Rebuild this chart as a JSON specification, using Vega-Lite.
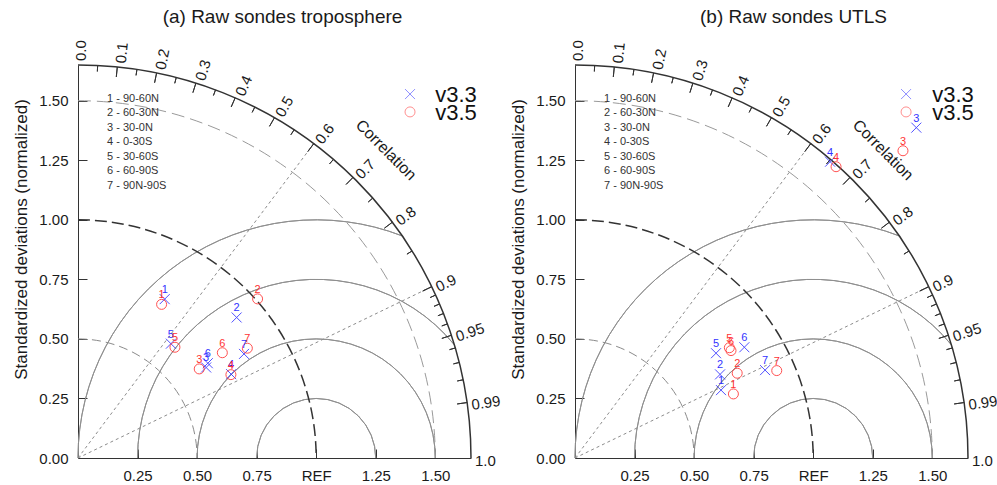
{
  "$schema": "https://vega.github.io/schema/vega-lite/v6.json",
  "padding": {"left": 12, "top": 8, "right": 5, "bottom": 5},
  "background": "white",
  "datasets": {
    "points_tropo": [
      {"version": "v3.3", "region": 1, "x": 0.364, "y": 0.667},
      {"version": "v3.3", "region": 2, "x": 0.666, "y": 0.590},
      {"version": "v3.3", "region": 3, "x": 0.538, "y": 0.380},
      {"version": "v3.3", "region": 4, "x": 0.643, "y": 0.352},
      {"version": "v3.3", "region": 5, "x": 0.390, "y": 0.480},
      {"version": "v3.3", "region": 6, "x": 0.545, "y": 0.398},
      {"version": "v3.3", "region": 7, "x": 0.697, "y": 0.437},
      {"version": "v3.5", "region": 1, "x": 0.351, "y": 0.645},
      {"version": "v3.5", "region": 2, "x": 0.754, "y": 0.668},
      {"version": "v3.5", "region": 3, "x": 0.509, "y": 0.374},
      {"version": "v3.5", "region": 4, "x": 0.642, "y": 0.350},
      {"version": "v3.5", "region": 5, "x": 0.407, "y": 0.465},
      {"version": "v3.5", "region": 6, "x": 0.606, "y": 0.442},
      {"version": "v3.5", "region": 7, "x": 0.711, "y": 0.461}
    ],
    "points_utls": [
      {"version": "v3.3", "region": 1, "x": 0.613, "y": 0.285},
      {"version": "v3.3", "region": 2, "x": 0.609, "y": 0.351},
      {"version": "v3.3", "region": 3, "x": 1.433, "y": 1.387},
      {"version": "v3.3", "region": 4, "x": 1.071, "y": 1.244},
      {"version": "v3.3", "region": 5, "x": 0.592, "y": 0.440},
      {"version": "v3.3", "region": 6, "x": 0.711, "y": 0.465},
      {"version": "v3.3", "region": 7, "x": 0.798, "y": 0.369},
      {"version": "v3.5", "region": 1, "x": 0.665, "y": 0.269},
      {"version": "v3.5", "region": 2, "x": 0.681, "y": 0.356},
      {"version": "v3.5", "region": 3, "x": 1.377, "y": 1.290},
      {"version": "v3.5", "region": 4, "x": 1.096, "y": 1.223},
      {"version": "v3.5", "region": 5, "x": 0.648, "y": 0.463},
      {"version": "v3.5", "region": 6, "x": 0.655, "y": 0.451},
      {"version": "v3.5", "region": 7, "x": 0.847, "y": 0.367}
    ],
    "rms_arcs": [
      {"cx": 1, "cy": 0, "r": 0.25, "t1": -90, "t2": 90},
      {"cx": 1, "cy": 0, "r": 0.5, "t1": -90, "t2": 90},
      {"cx": 1, "cy": 0, "r": 0.75, "t1": -90, "t2": 50.66},
      {"cx": 1, "cy": 0, "r": 1.0, "t1": -90, "t2": 21.17}
    ],
    "std_arcs": [{"r": 0.5}, {"r": 1.0}, {"r": 1.5}, {"r": 1.65}],
    "corr_rays": [
      {"corr": 0.6, "x": 0, "y": 0, "x2": 0.99, "y2": 1.32},
      {"corr": 0.9, "x": 0, "y": 0, "x2": 1.485, "y2": 0.7193}
    ],
    "corr_ticks": [
      {"corr": 0.05, "theta": 2.866, "kind": "minor"},
      {"corr": 0.1, "theta": 5.739, "kind": "major"},
      {"corr": 0.15, "theta": 8.627, "kind": "minor"},
      {"corr": 0.2, "theta": 11.537, "kind": "major"},
      {"corr": 0.25, "theta": 14.478, "kind": "minor"},
      {"corr": 0.3, "theta": 17.458, "kind": "major"},
      {"corr": 0.35, "theta": 20.487, "kind": "minor"},
      {"corr": 0.4, "theta": 23.578, "kind": "major"},
      {"corr": 0.45, "theta": 26.744, "kind": "minor"},
      {"corr": 0.5, "theta": 30.0, "kind": "major"},
      {"corr": 0.55, "theta": 33.367, "kind": "minor"},
      {"corr": 0.6, "theta": 36.87, "kind": "major"},
      {"corr": 0.65, "theta": 40.542, "kind": "minor"},
      {"corr": 0.7, "theta": 44.427, "kind": "major"},
      {"corr": 0.75, "theta": 48.59, "kind": "minor"},
      {"corr": 0.8, "theta": 53.13, "kind": "major"},
      {"corr": 0.85, "theta": 58.212, "kind": "minor"},
      {"corr": 0.9, "theta": 64.158, "kind": "major"},
      {"corr": 0.91, "theta": 65.505, "kind": "minor"},
      {"corr": 0.92, "theta": 66.926, "kind": "minor"},
      {"corr": 0.93, "theta": 68.434, "kind": "minor"},
      {"corr": 0.94, "theta": 70.052, "kind": "minor"},
      {"corr": 0.95, "theta": 71.805, "kind": "major"},
      {"corr": 0.96, "theta": 73.74, "kind": "minor"},
      {"corr": 0.97, "theta": 75.93, "kind": "minor"},
      {"corr": 0.98, "theta": 78.522, "kind": "minor"},
      {"corr": 0.99, "theta": 81.89, "kind": "major"}
    ],
    "corr_labels": [
      {"label": "0.0", "theta": 0},
      {"label": "0.1", "theta": 5.739},
      {"label": "0.2", "theta": 11.537},
      {"label": "0.3", "theta": 17.458},
      {"label": "0.4", "theta": 23.578},
      {"label": "0.5", "theta": 30.0},
      {"label": "0.6", "theta": 36.87},
      {"label": "0.7", "theta": 44.427},
      {"label": "0.8", "theta": 53.13},
      {"label": "0.9", "theta": 64.158},
      {"label": "0.95", "theta": 71.805},
      {"label": "0.99", "theta": 81.89},
      {"label": "1.0", "theta": 90}
    ]
  },
  "spacing": 104,
  "bounds": "flush",
  "hconcat": [
    {
      "width": 393,
      "height": 393,
      "title": {"text": "(a) Raw sondes troposphere", "anchor": "middle", "frame": "group", "dx": 8, "offset": 13},
      "layer": [
        {
          "data": {"name": "corr_rays"},
          "mark": {"type": "rule", "stroke": "#8c8c8c", "strokeWidth": 1, "strokeDash": [3, 3]},
          "encoding": {
            "x": {"field": "x", "type": "quantitative", "scale": {"domain": [0, 1.65], "nice": false, "zero": true},
              "axis": {"values": [0.25, 0.5, 0.75, 1, 1.25, 1.5], "labelExpr": "datum.value == 1 ? 'REF' : format(datum.value, '.2f')", "title": null, "tickSize": -9, "labelPadding": 19, "labelFlush": false, "labelOverlap": false}},
            "y": {"field": "y", "type": "quantitative", "scale": {"domain": [0, 1.65], "nice": false, "zero": true},
              "axis": {"values": [0, 0.25, 0.5, 0.75, 1, 1.25, 1.5], "format": ".2f", "title": "Standardized deviations (normalized)", "titleFontSize": 17, "titleY": 174, "tickSize": -9, "labelPadding": 19, "titlePadding": 8, "labelFlush": false, "labelOverlap": false}},
            "x2": {"field": "x2"},
            "y2": {"field": "y2"}
          }
        },
        {
          "data": {"name": "rms_arcs"},
          "mark": {"type": "arc", "filled": false, "stroke": "#8f8f8f", "strokeWidth": 1},
          "encoding": {
            "x": {"field": "cx", "type": "quantitative", "scale": {"domain": [0, 1.65], "nice": false, "zero": true}},
            "y": {"field": "cy", "type": "quantitative", "scale": {"domain": [0, 1.65], "nice": false, "zero": true}},
            "theta": {"field": "t1", "type": "quantitative", "stack": null, "scale": {"type": "linear", "domain": [0, 360], "range": [0, 6.283185307179586]}},
            "theta2": {"field": "t2"},
            "radius": {"field": "r", "type": "quantitative", "stack": null, "scale": {"type": "linear", "domain": [0, 1.65], "range": [0, 393]}},
            "radius2": {"field": "r"}
          }
        },
        {
          "data": {"name": "std_arcs"},
          "transform": [{"filter": "datum.r == 0.5"}],
          "mark": {"type": "arc", "filled": false, "stroke": "#8a8a8a", "strokeWidth": 1,
            "strokeDash": [9,5,9,5,9,5,9,5,9,5,9,5,9,5,9,5,9,5,9,5,9,5,9,5,9,5,5,5000]},
          "encoding": {
            "x": {"datum": 0, "type": "quantitative", "scale": {"domain": [0, 1.65], "nice": false, "zero": true}},
            "y": {"datum": 0, "type": "quantitative", "scale": {"domain": [0, 1.65], "nice": false, "zero": true}},
            "theta": {"datum": 0, "type": "quantitative", "stack": null, "scale": {"type": "linear", "domain": [0, 360], "range": [0, 6.283185307179586]}},
            "theta2": {"datum": 90},
            "radius": {"field": "r", "type": "quantitative", "stack": null, "scale": {"type": "linear", "domain": [0, 1.65], "range": [0, 393]}},
            "radius2": {"field": "r"}
          }
        },
        {
          "data": {"name": "std_arcs"},
          "transform": [{"filter": "datum.r == 1.0"}],
          "mark": {"type": "arc", "filled": false, "stroke": "#333333", "strokeWidth": 1.5,
            "strokeDash": [12,5,12,5,12,5,12,5,12,5,12,5,12,5,12,5,12,5,12,5,12,5,12,5,12,5,12,5,12,5,12,5,12,5,12,5,12,5,12,5,12,5,12,5,0,5000]},
          "encoding": {
            "x": {"datum": 0, "type": "quantitative", "scale": {"domain": [0, 1.65], "nice": false, "zero": true}},
            "y": {"datum": 0, "type": "quantitative", "scale": {"domain": [0, 1.65], "nice": false, "zero": true}},
            "theta": {"datum": 0, "type": "quantitative", "stack": null, "scale": {"type": "linear", "domain": [0, 360], "range": [0, 6.283185307179586]}},
            "theta2": {"datum": 90},
            "radius": {"field": "r", "type": "quantitative", "stack": null, "scale": {"type": "linear", "domain": [0, 1.65], "range": [0, 393]}},
            "radius2": {"field": "r"}
          }
        },
        {
          "data": {"name": "std_arcs"},
          "transform": [{"filter": "datum.r == 1.5"}],
          "mark": {"type": "arc", "filled": false, "stroke": "#9a9a9a", "strokeWidth": 1,
            "strokeDash": [13,6,13,6,13,6,13,6,13,6,13,6,13,6,13,6,13,6,13,6,13,6,13,6,13,6,13,6,13,6,13,6,13,6,13,6,13,6,13,6,13,6,13,6,13,6,13,6,13,6,13,6,13,6,13,6,13,6,10,5000]},
          "encoding": {
            "x": {"datum": 0, "type": "quantitative", "scale": {"domain": [0, 1.65], "nice": false, "zero": true}},
            "y": {"datum": 0, "type": "quantitative", "scale": {"domain": [0, 1.65], "nice": false, "zero": true}},
            "theta": {"datum": 0, "type": "quantitative", "stack": null, "scale": {"type": "linear", "domain": [0, 360], "range": [0, 6.283185307179586]}},
            "theta2": {"datum": 90},
            "radius": {"field": "r", "type": "quantitative", "stack": null, "scale": {"type": "linear", "domain": [0, 1.65], "range": [0, 393]}},
            "radius2": {"field": "r"}
          }
        },
        {
          "data": {"name": "std_arcs"},
          "transform": [{"filter": "datum.r == 1.65"}],
          "mark": {"type": "arc", "filled": false, "stroke": "#333333", "strokeWidth": 1.5},
          "encoding": {
            "x": {"datum": 0, "type": "quantitative", "scale": {"domain": [0, 1.65], "nice": false, "zero": true}},
            "y": {"datum": 0, "type": "quantitative", "scale": {"domain": [0, 1.65], "nice": false, "zero": true}},
            "theta": {"datum": 0, "type": "quantitative", "stack": null, "scale": {"type": "linear", "domain": [0, 360], "range": [0, 6.283185307179586]}},
            "theta2": {"datum": 90},
            "radius": {"field": "r", "type": "quantitative", "stack": null, "scale": {"type": "linear", "domain": [0, 1.65], "range": [0, 393]}},
            "radius2": {"field": "r"}
          }
        },
        {
          "data": {"name": "corr_ticks"},
          "transform": [{"filter": "datum.kind == 'major'"}],
          "mark": {"type": "arc", "filled": false, "stroke": "#333333", "strokeWidth": 1, "radius2Offset": -10},
          "encoding": {
            "x": {"datum": 0, "type": "quantitative", "scale": {"domain": [0, 1.65], "nice": false, "zero": true}},
            "y": {"datum": 0, "type": "quantitative", "scale": {"domain": [0, 1.65], "nice": false, "zero": true}},
            "theta": {"field": "theta", "type": "quantitative", "stack": null, "scale": {"type": "linear", "domain": [0, 360], "range": [0, 6.283185307179586]}},
            "theta2": {"field": "theta"},
            "radius": {"datum": 1.65, "type": "quantitative", "stack": null, "scale": {"type": "linear", "domain": [0, 1.65], "range": [0, 393]}},
            "radius2": {"datum": 1.65}
          }
        },
        {
          "data": {"name": "corr_ticks"},
          "transform": [{"filter": "datum.kind == 'minor'"}],
          "mark": {"type": "arc", "filled": false, "stroke": "#333333", "strokeWidth": 1, "radius2Offset": -6},
          "encoding": {
            "x": {"datum": 0, "type": "quantitative", "scale": {"domain": [0, 1.65], "nice": false, "zero": true}},
            "y": {"datum": 0, "type": "quantitative", "scale": {"domain": [0, 1.65], "nice": false, "zero": true}},
            "theta": {"field": "theta", "type": "quantitative", "stack": null, "scale": {"type": "linear", "domain": [0, 360], "range": [0, 6.283185307179586]}},
            "theta2": {"field": "theta"},
            "radius": {"datum": 1.65, "type": "quantitative", "stack": null, "scale": {"type": "linear", "domain": [0, 1.65], "range": [0, 393]}},
            "radius2": {"datum": 1.65}
          }
        },
        {
          "data": {"name": "corr_labels"},
          "mark": {"type": "text", "align": "left", "baseline": "middle", "dx": 4, "dy": 3, "fontSize": 15, "color": "#1a1a1a"},
          "encoding": {
            "x": {"datum": 0, "type": "quantitative", "scale": {"domain": [0, 1.65], "nice": false, "zero": true}},
            "y": {"datum": 0, "type": "quantitative", "scale": {"domain": [0, 1.65], "nice": false, "zero": true}},
            "theta": {"field": "theta", "type": "quantitative", "stack": null, "scale": {"type": "linear", "domain": [0, 360], "range": [0, 6.283185307179586]}},
            "radius": {"datum": 1.65, "type": "quantitative", "stack": null, "scale": {"type": "linear", "domain": [0, 1.65], "range": [0, 393]}},
            "angle": {"field": "theta", "type": "quantitative", "scale": {"domain": [0, 90], "range": [-90, 0]}, "legend": null},
            "text": {"field": "label"}
          }
        },
        {
          "data": {"values": [{}]},
          "mark": {"type": "text", "text": "Correlation", "align": "center", "baseline": "middle", "angle": 45, "fontSize": 16, "color": "#1a1a1a"},
          "encoding": {
            "x": {"datum": 1.293, "type": "quantitative", "scale": {"domain": [0, 1.65], "nice": false, "zero": true}},
            "y": {"datum": 1.293, "type": "quantitative", "scale": {"domain": [0, 1.65], "nice": false, "zero": true}}
          }
        },
        {
          "data": {"values": [{}]},
          "mark": {"type": "text", "text": ["1 - 90-60N", "2 - 60-30N", "3 - 30-0N", "4 - 0-30S", "5 - 30-60S", "6 - 60-90S", "7 - 90N-90S"],
            "align": "left", "baseline": "middle", "lineHeight": 14.5, "fontSize": 11, "color": "#333333"},
          "encoding": {
            "x": {"datum": 0.122, "type": "quantitative", "scale": {"domain": [0, 1.65], "nice": false, "zero": true}},
            "y": {"datum": 1.508, "type": "quantitative", "scale": {"domain": [0, 1.65], "nice": false, "zero": true}}
          }
        },
        {
          "data": {"values": [{}]},
          "mark": {"type": "point", "filled": false, "size": 100, "strokeWidth": 1, "opacity": 0.55},
          "encoding": {
            "x": {"datum": 1.394, "type": "quantitative", "scale": {"domain": [0, 1.65], "nice": false, "zero": true}},
            "y": {"datum": 1.528, "type": "quantitative", "scale": {"domain": [0, 1.65], "nice": false, "zero": true}},
            "color": {"datum": "v3.3", "type": "nominal", "scale": {"domain": ["v3.3", "v3.5"], "range": ["#3333ff", "#ff3333"]}, "legend": null},
            "shape": {"datum": "v3.3", "type": "nominal", "scale": {"domain": ["v3.3", "v3.5"], "range": ["M-1,-1L1,1M-1,1L1,-1", "circle"]}, "legend": null}
          }
        },
        {
          "data": {"values": [{}]},
          "mark": {"type": "point", "filled": false, "size": 100, "strokeWidth": 1, "opacity": 0.55},
          "encoding": {
            "x": {"datum": 1.394, "type": "quantitative", "scale": {"domain": [0, 1.65], "nice": false, "zero": true}},
            "y": {"datum": 1.453, "type": "quantitative", "scale": {"domain": [0, 1.65], "nice": false, "zero": true}},
            "color": {"datum": "v3.5", "type": "nominal", "scale": {"domain": ["v3.3", "v3.5"], "range": ["#3333ff", "#ff3333"]}, "legend": null},
            "shape": {"datum": "v3.5", "type": "nominal", "scale": {"domain": ["v3.3", "v3.5"], "range": ["M-1,-1L1,1M-1,1L1,-1", "circle"]}, "legend": null}
          }
        },
        {
          "data": {"values": [{}]},
          "mark": {"type": "text", "text": ["v3.3", "v3.5"], "align": "left", "baseline": "middle", "lineHeight": 17.5, "fontSize": 22, "color": "#111111"},
          "encoding": {
            "x": {"datum": 1.5, "type": "quantitative", "scale": {"domain": [0, 1.65], "nice": false, "zero": true}},
            "y": {"datum": 1.524, "type": "quantitative", "scale": {"domain": [0, 1.65], "nice": false, "zero": true}}
          }
        },
        {
          "data": {"name": "points_tropo"},
          "mark": {"type": "point", "filled": false, "size": 100, "strokeWidth": 1, "opacity": 0.85},
          "encoding": {
            "x": {"field": "x", "type": "quantitative", "scale": {"domain": [0, 1.65], "nice": false, "zero": true}},
            "y": {"field": "y", "type": "quantitative", "scale": {"domain": [0, 1.65], "nice": false, "zero": true}},
            "color": {"field": "version", "type": "nominal", "scale": {"domain": ["v3.3", "v3.5"], "range": ["#3333ff", "#ff3333"]}, "legend": null},
            "shape": {"field": "version", "type": "nominal", "scale": {"domain": ["v3.3", "v3.5"], "range": ["M-1,-1L1,1M-1,1L1,-1", "circle"]}, "legend": null}
          }
        },
        {
          "data": {"name": "points_tropo"},
          "mark": {"type": "text", "fontSize": 11, "dy": -9, "align": "center", "baseline": "middle"},
          "encoding": {
            "x": {"field": "x", "type": "quantitative", "scale": {"domain": [0, 1.65], "nice": false, "zero": true}},
            "y": {"field": "y", "type": "quantitative", "scale": {"domain": [0, 1.65], "nice": false, "zero": true}},
            "text": {"field": "region"},
            "color": {"field": "version", "type": "nominal", "scale": {"domain": ["v3.3", "v3.5"], "range": ["#3333ff", "#ff3333"]}, "legend": null}
          }
        }
      ]
    },
    {
      "width": 393,
      "height": 393,
      "title": {"text": "(b)  Raw sondes UTLS", "anchor": "middle", "frame": "group", "dx": 22, "offset": 13},
      "layer": [
        {
          "data": {"name": "corr_rays"},
          "mark": {"type": "rule", "stroke": "#8c8c8c", "strokeWidth": 1, "strokeDash": [3, 3]},
          "encoding": {
            "x": {"field": "x", "type": "quantitative", "scale": {"domain": [0, 1.65], "nice": false, "zero": true},
              "axis": {"values": [0.25, 0.5, 0.75, 1, 1.25, 1.5], "labelExpr": "datum.value == 1 ? 'REF' : format(datum.value, '.2f')", "title": null, "tickSize": -9, "labelPadding": 19, "labelFlush": false, "labelOverlap": false}},
            "y": {"field": "y", "type": "quantitative", "scale": {"domain": [0, 1.65], "nice": false, "zero": true},
              "axis": {"values": [0, 0.25, 0.5, 0.75, 1, 1.25, 1.5], "format": ".2f", "title": "Standardized deviations (normalized)", "titleFontSize": 17, "titleY": 174, "tickSize": -9, "labelPadding": 19, "titlePadding": 8, "labelFlush": false, "labelOverlap": false}},
            "x2": {"field": "x2"},
            "y2": {"field": "y2"}
          }
        },
        {
          "data": {"name": "rms_arcs"},
          "mark": {"type": "arc", "filled": false, "stroke": "#8f8f8f", "strokeWidth": 1},
          "encoding": {
            "x": {"field": "cx", "type": "quantitative", "scale": {"domain": [0, 1.65], "nice": false, "zero": true}},
            "y": {"field": "cy", "type": "quantitative", "scale": {"domain": [0, 1.65], "nice": false, "zero": true}},
            "theta": {"field": "t1", "type": "quantitative", "stack": null, "scale": {"type": "linear", "domain": [0, 360], "range": [0, 6.283185307179586]}},
            "theta2": {"field": "t2"},
            "radius": {"field": "r", "type": "quantitative", "stack": null, "scale": {"type": "linear", "domain": [0, 1.65], "range": [0, 393]}},
            "radius2": {"field": "r"}
          }
        },
        {
          "data": {"name": "std_arcs"},
          "transform": [{"filter": "datum.r == 0.5"}],
          "mark": {"type": "arc", "filled": false, "stroke": "#8a8a8a", "strokeWidth": 1,
            "strokeDash": [9,5,9,5,9,5,9,5,9,5,9,5,9,5,9,5,9,5,9,5,9,5,9,5,9,5,5,5000]},
          "encoding": {
            "x": {"datum": 0, "type": "quantitative", "scale": {"domain": [0, 1.65], "nice": false, "zero": true}},
            "y": {"datum": 0, "type": "quantitative", "scale": {"domain": [0, 1.65], "nice": false, "zero": true}},
            "theta": {"datum": 0, "type": "quantitative", "stack": null, "scale": {"type": "linear", "domain": [0, 360], "range": [0, 6.283185307179586]}},
            "theta2": {"datum": 90},
            "radius": {"field": "r", "type": "quantitative", "stack": null, "scale": {"type": "linear", "domain": [0, 1.65], "range": [0, 393]}},
            "radius2": {"field": "r"}
          }
        },
        {
          "data": {"name": "std_arcs"},
          "transform": [{"filter": "datum.r == 1.0"}],
          "mark": {"type": "arc", "filled": false, "stroke": "#333333", "strokeWidth": 1.5,
            "strokeDash": [12,5,12,5,12,5,12,5,12,5,12,5,12,5,12,5,12,5,12,5,12,5,12,5,12,5,12,5,12,5,12,5,12,5,12,5,12,5,12,5,12,5,12,5,0,5000]},
          "encoding": {
            "x": {"datum": 0, "type": "quantitative", "scale": {"domain": [0, 1.65], "nice": false, "zero": true}},
            "y": {"datum": 0, "type": "quantitative", "scale": {"domain": [0, 1.65], "nice": false, "zero": true}},
            "theta": {"datum": 0, "type": "quantitative", "stack": null, "scale": {"type": "linear", "domain": [0, 360], "range": [0, 6.283185307179586]}},
            "theta2": {"datum": 90},
            "radius": {"field": "r", "type": "quantitative", "stack": null, "scale": {"type": "linear", "domain": [0, 1.65], "range": [0, 393]}},
            "radius2": {"field": "r"}
          }
        },
        {
          "data": {"name": "std_arcs"},
          "transform": [{"filter": "datum.r == 1.5"}],
          "mark": {"type": "arc", "filled": false, "stroke": "#9a9a9a", "strokeWidth": 1,
            "strokeDash": [13,6,13,6,13,6,13,6,13,6,13,6,13,6,13,6,13,6,13,6,13,6,13,6,13,6,13,6,13,6,13,6,13,6,13,6,13,6,13,6,13,6,13,6,13,6,13,6,13,6,13,6,13,6,13,6,13,6,10,5000]},
          "encoding": {
            "x": {"datum": 0, "type": "quantitative", "scale": {"domain": [0, 1.65], "nice": false, "zero": true}},
            "y": {"datum": 0, "type": "quantitative", "scale": {"domain": [0, 1.65], "nice": false, "zero": true}},
            "theta": {"datum": 0, "type": "quantitative", "stack": null, "scale": {"type": "linear", "domain": [0, 360], "range": [0, 6.283185307179586]}},
            "theta2": {"datum": 90},
            "radius": {"field": "r", "type": "quantitative", "stack": null, "scale": {"type": "linear", "domain": [0, 1.65], "range": [0, 393]}},
            "radius2": {"field": "r"}
          }
        },
        {
          "data": {"name": "std_arcs"},
          "transform": [{"filter": "datum.r == 1.65"}],
          "mark": {"type": "arc", "filled": false, "stroke": "#333333", "strokeWidth": 1.5},
          "encoding": {
            "x": {"datum": 0, "type": "quantitative", "scale": {"domain": [0, 1.65], "nice": false, "zero": true}},
            "y": {"datum": 0, "type": "quantitative", "scale": {"domain": [0, 1.65], "nice": false, "zero": true}},
            "theta": {"datum": 0, "type": "quantitative", "stack": null, "scale": {"type": "linear", "domain": [0, 360], "range": [0, 6.283185307179586]}},
            "theta2": {"datum": 90},
            "radius": {"field": "r", "type": "quantitative", "stack": null, "scale": {"type": "linear", "domain": [0, 1.65], "range": [0, 393]}},
            "radius2": {"field": "r"}
          }
        },
        {
          "data": {"name": "corr_ticks"},
          "transform": [{"filter": "datum.kind == 'major'"}],
          "mark": {"type": "arc", "filled": false, "stroke": "#333333", "strokeWidth": 1, "radius2Offset": -10},
          "encoding": {
            "x": {"datum": 0, "type": "quantitative", "scale": {"domain": [0, 1.65], "nice": false, "zero": true}},
            "y": {"datum": 0, "type": "quantitative", "scale": {"domain": [0, 1.65], "nice": false, "zero": true}},
            "theta": {"field": "theta", "type": "quantitative", "stack": null, "scale": {"type": "linear", "domain": [0, 360], "range": [0, 6.283185307179586]}},
            "theta2": {"field": "theta"},
            "radius": {"datum": 1.65, "type": "quantitative", "stack": null, "scale": {"type": "linear", "domain": [0, 1.65], "range": [0, 393]}},
            "radius2": {"datum": 1.65}
          }
        },
        {
          "data": {"name": "corr_ticks"},
          "transform": [{"filter": "datum.kind == 'minor'"}],
          "mark": {"type": "arc", "filled": false, "stroke": "#333333", "strokeWidth": 1, "radius2Offset": -6},
          "encoding": {
            "x": {"datum": 0, "type": "quantitative", "scale": {"domain": [0, 1.65], "nice": false, "zero": true}},
            "y": {"datum": 0, "type": "quantitative", "scale": {"domain": [0, 1.65], "nice": false, "zero": true}},
            "theta": {"field": "theta", "type": "quantitative", "stack": null, "scale": {"type": "linear", "domain": [0, 360], "range": [0, 6.283185307179586]}},
            "theta2": {"field": "theta"},
            "radius": {"datum": 1.65, "type": "quantitative", "stack": null, "scale": {"type": "linear", "domain": [0, 1.65], "range": [0, 393]}},
            "radius2": {"datum": 1.65}
          }
        },
        {
          "data": {"name": "corr_labels"},
          "mark": {"type": "text", "align": "left", "baseline": "middle", "dx": 4, "dy": 3, "fontSize": 15, "color": "#1a1a1a"},
          "encoding": {
            "x": {"datum": 0, "type": "quantitative", "scale": {"domain": [0, 1.65], "nice": false, "zero": true}},
            "y": {"datum": 0, "type": "quantitative", "scale": {"domain": [0, 1.65], "nice": false, "zero": true}},
            "theta": {"field": "theta", "type": "quantitative", "stack": null, "scale": {"type": "linear", "domain": [0, 360], "range": [0, 6.283185307179586]}},
            "radius": {"datum": 1.65, "type": "quantitative", "stack": null, "scale": {"type": "linear", "domain": [0, 1.65], "range": [0, 393]}},
            "angle": {"field": "theta", "type": "quantitative", "scale": {"domain": [0, 90], "range": [-90, 0]}, "legend": null},
            "text": {"field": "label"}
          }
        },
        {
          "data": {"values": [{}]},
          "mark": {"type": "text", "text": "Correlation", "align": "center", "baseline": "middle", "angle": 45, "fontSize": 16, "color": "#1a1a1a"},
          "encoding": {
            "x": {"datum": 1.293, "type": "quantitative", "scale": {"domain": [0, 1.65], "nice": false, "zero": true}},
            "y": {"datum": 1.293, "type": "quantitative", "scale": {"domain": [0, 1.65], "nice": false, "zero": true}}
          }
        },
        {
          "data": {"values": [{}]},
          "mark": {"type": "text", "text": ["1 - 90-60N", "2 - 60-30N", "3 - 30-0N", "4 - 0-30S", "5 - 30-60S", "6 - 60-90S", "7 - 90N-90S"],
            "align": "left", "baseline": "middle", "lineHeight": 14.5, "fontSize": 11, "color": "#333333"},
          "encoding": {
            "x": {"datum": 0.122, "type": "quantitative", "scale": {"domain": [0, 1.65], "nice": false, "zero": true}},
            "y": {"datum": 1.508, "type": "quantitative", "scale": {"domain": [0, 1.65], "nice": false, "zero": true}}
          }
        },
        {
          "data": {"values": [{}]},
          "mark": {"type": "point", "filled": false, "size": 100, "strokeWidth": 1, "opacity": 0.55},
          "encoding": {
            "x": {"datum": 1.39, "type": "quantitative", "scale": {"domain": [0, 1.65], "nice": false, "zero": true}},
            "y": {"datum": 1.528, "type": "quantitative", "scale": {"domain": [0, 1.65], "nice": false, "zero": true}},
            "color": {"datum": "v3.3", "type": "nominal", "scale": {"domain": ["v3.3", "v3.5"], "range": ["#3333ff", "#ff3333"]}, "legend": null},
            "shape": {"datum": "v3.3", "type": "nominal", "scale": {"domain": ["v3.3", "v3.5"], "range": ["M-1,-1L1,1M-1,1L1,-1", "circle"]}, "legend": null}
          }
        },
        {
          "data": {"values": [{}]},
          "mark": {"type": "point", "filled": false, "size": 100, "strokeWidth": 1, "opacity": 0.55},
          "encoding": {
            "x": {"datum": 1.39, "type": "quantitative", "scale": {"domain": [0, 1.65], "nice": false, "zero": true}},
            "y": {"datum": 1.453, "type": "quantitative", "scale": {"domain": [0, 1.65], "nice": false, "zero": true}},
            "color": {"datum": "v3.5", "type": "nominal", "scale": {"domain": ["v3.3", "v3.5"], "range": ["#3333ff", "#ff3333"]}, "legend": null},
            "shape": {"datum": "v3.5", "type": "nominal", "scale": {"domain": ["v3.3", "v3.5"], "range": ["M-1,-1L1,1M-1,1L1,-1", "circle"]}, "legend": null}
          }
        },
        {
          "data": {"values": [{}]},
          "mark": {"type": "text", "text": ["v3.3", "v3.5"], "align": "left", "baseline": "middle", "lineHeight": 17.5, "fontSize": 22, "color": "#111111"},
          "encoding": {
            "x": {"datum": 1.5, "type": "quantitative", "scale": {"domain": [0, 1.65], "nice": false, "zero": true}},
            "y": {"datum": 1.524, "type": "quantitative", "scale": {"domain": [0, 1.65], "nice": false, "zero": true}}
          }
        },
        {
          "data": {"name": "points_utls"},
          "mark": {"type": "point", "filled": false, "size": 100, "strokeWidth": 1, "opacity": 0.85},
          "encoding": {
            "x": {"field": "x", "type": "quantitative", "scale": {"domain": [0, 1.65], "nice": false, "zero": true}},
            "y": {"field": "y", "type": "quantitative", "scale": {"domain": [0, 1.65], "nice": false, "zero": true}},
            "color": {"field": "version", "type": "nominal", "scale": {"domain": ["v3.3", "v3.5"], "range": ["#3333ff", "#ff3333"]}, "legend": null},
            "shape": {"field": "version", "type": "nominal", "scale": {"domain": ["v3.3", "v3.5"], "range": ["M-1,-1L1,1M-1,1L1,-1", "circle"]}, "legend": null}
          }
        },
        {
          "data": {"name": "points_utls"},
          "mark": {"type": "text", "fontSize": 11, "dy": -9, "align": "center", "baseline": "middle"},
          "encoding": {
            "x": {"field": "x", "type": "quantitative", "scale": {"domain": [0, 1.65], "nice": false, "zero": true}},
            "y": {"field": "y", "type": "quantitative", "scale": {"domain": [0, 1.65], "nice": false, "zero": true}},
            "text": {"field": "region"},
            "color": {"field": "version", "type": "nominal", "scale": {"domain": ["v3.3", "v3.5"], "range": ["#3333ff", "#ff3333"]}, "legend": null}
          }
        }
      ]
    }
  ],
  "config": {
    "font": "Liberation Sans",
    "view": {"stroke": null},
    "axis": {"grid": false, "domainColor": "#333333", "tickColor": "#333333", "labelColor": "#1a1a1a", "labelFontSize": 15, "titleColor": "#1a1a1a", "titleFontWeight": "normal"},
    "title": {"fontSize": 19, "fontWeight": "normal", "color": "#1a1a1a"}
  }
}
